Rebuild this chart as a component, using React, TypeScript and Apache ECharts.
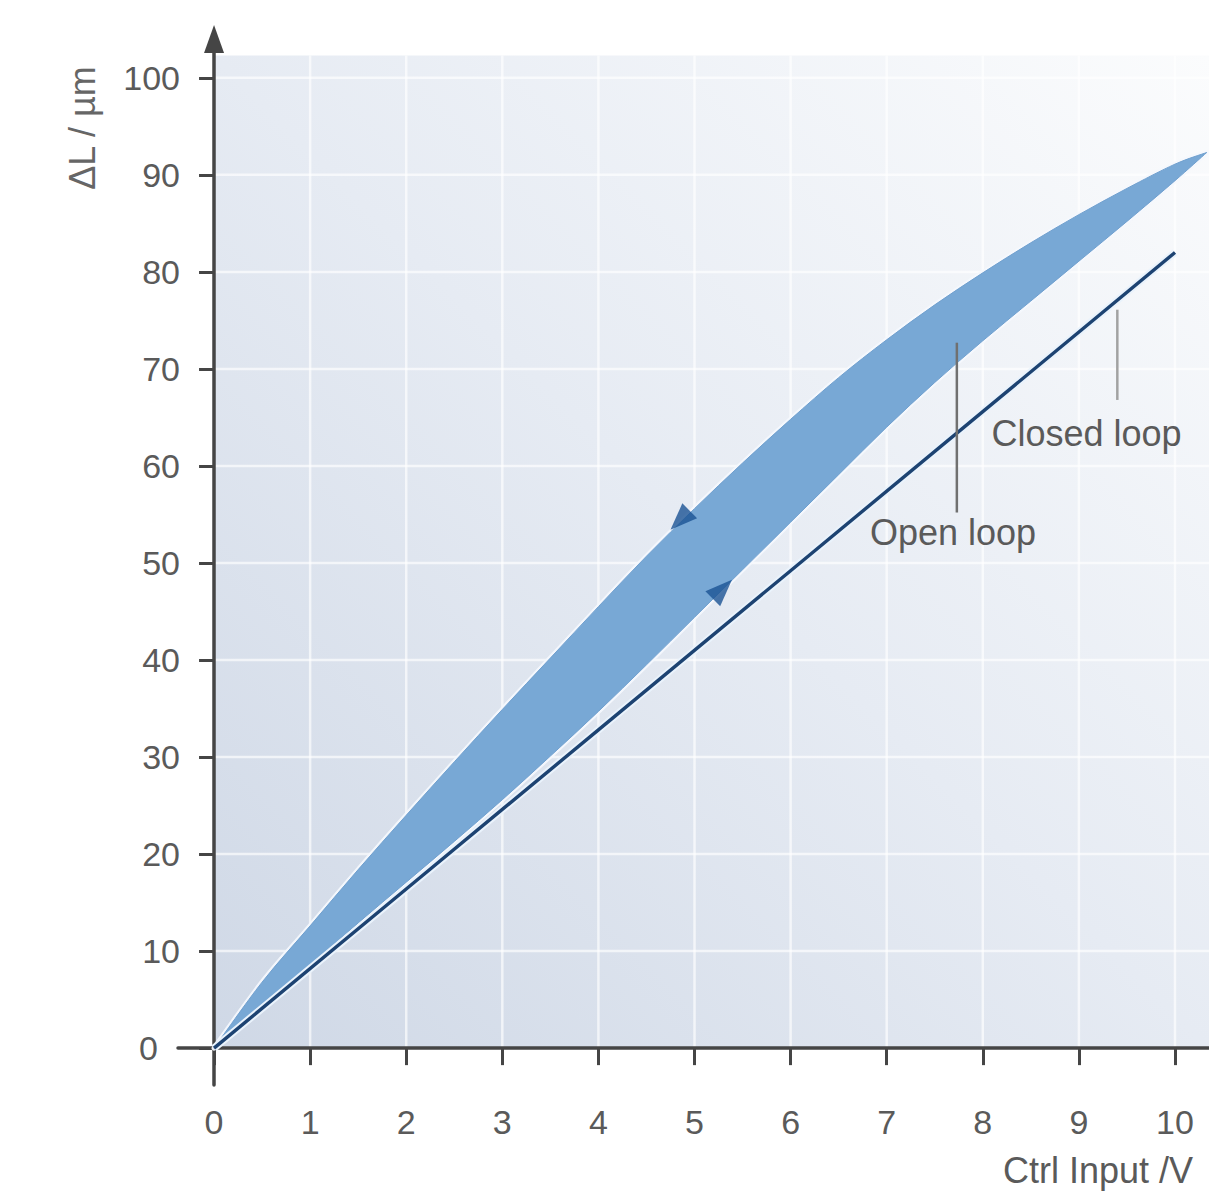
import React, { useEffect, useRef } from 'react';
import * as echarts from 'echarts';

// ---- data ----
const xTicks = [0, 1, 2, 3, 4, 5, 6, 7, 8, 9, 10];
const yTicks = [0, 10, 20, 30, 40, 50, 60, 70, 80, 90, 100];

// open loop hysteresis band: upper (descending) branch and lower (ascending) branch
const openUpperX = [0, 0.5, 1, 1.5, 2, 2.5, 3, 3.5, 4, 4.5, 5, 5.5, 6, 6.5, 7, 7.5, 8, 8.5, 9, 9.5, 10, 10.33];
const openUpperY = [0, 6.8, 12.6, 18.4, 24.0, 29.5, 34.9, 40.2, 45.5, 50.7, 55.6, 60.3, 64.8, 69.1, 73.0, 76.6, 79.9, 83.0, 85.9, 88.6, 91.1, 92.3];
const openLowerX = [0, 0.5, 1, 1.5, 2, 2.5, 3, 3.5, 4, 4.5, 5, 5.5, 6, 6.5, 7, 7.5, 8, 8.5, 9, 9.5, 10, 10.33];
const openLowerY = [0, 4.3, 8.6, 12.9, 17.1, 21.3, 25.6, 30.1, 34.7, 39.5, 44.4, 49.3, 54.2, 59.1, 64.0, 68.6, 72.9, 77.0, 81.1, 85.2, 89.4, 92.3];

// closed loop response
const closedX = [0, 2, 4, 6, 8, 10];
const closedY = [0, 16.4, 32.8, 49.2, 65.6, 82];

// direction arrows on the hysteresis branches
const arrowX = [4.85, 5.29];
const arrowY = [54.4, 47.3];
const arrowRotate = [134.5, -45.3];

// annotations
const annoText = ['Open loop', 'Closed loop'];
const annoPointerX = [7.73, 9.4];
const annoPointerTop = [72.7, 76.1];
const annoPointerBottom = [55.2, 66.8];
const annoTextX = [7.69, 9.08];
const annoTextY = [53.1, 63.3];
const annoPointerColor = ['#707070', '#a2a2a2'];

// axis extents (the axes cross at the origin and extend a little beyond)
const X_MIN = -0.375;
const X_MAX = 10.354;
const Y_MIN = -3.8;
const Y_MAX = 104;
const BG_TOP = 102.3;

const FONT = '"Liberation Sans", Arial, Helvetica, sans-serif';
const AXIS_COLOR = '#454545';
const TEXT_COLOR = '#5a5a5a';

// Catmull-Rom spline through pixel points -> SVG cubic segments (without the initial M)
function splineSegments(p: number[][]): string {
  let d = '';
  for (let i = 0; i < p.length - 1; i++) {
    const p0 = p[Math.max(0, i - 1)];
    const p1 = p[i];
    const p2 = p[i + 1];
    const p3 = p[Math.min(p.length - 1, i + 2)];
    const c1x = p1[0] + (p2[0] - p0[0]) / 6;
    const c1y = p1[1] + (p2[1] - p0[1]) / 6;
    const c2x = p2[0] - (p3[0] - p1[0]) / 6;
    const c2y = p2[1] - (p3[1] - p1[1]) / 6;
    d += ` C ${c1x} ${c1y} ${c2x} ${c2y} ${p2[0]} ${p2[1]}`;
  }
  return d;
}

export default function App() {
  const ref = useRef<HTMLDivElement>(null);

  useEffect(() => {
    document.body.style.margin = '0';
    if (!ref.current) return;
    const chart = echarts.init(ref.current, null, { renderer: 'svg' });

    const bgGradient = new echarts.graphic.LinearGradient(0, 1, 1, 0, [
      { offset: 0, color: '#cfd8e6' },
      { offset: 0.5, color: '#e6ebf3' },
      { offset: 1, color: '#fbfcfd' },
    ]);

    const option: any = {
      animation: false,
      backgroundColor: '#ffffff',
      grid: { left: 178, right: 0, top: 39, bottom: 106, containLabel: false },
      xAxis: {
        type: 'value',
        min: X_MIN,
        max: X_MAX,
        axisLine: { show: true, onZero: true, lineStyle: { color: AXIS_COLOR, width: 3.5 } },
        axisTick: { show: true, customValues: xTicks, length: 17, lineStyle: { color: AXIS_COLOR, width: 3 } },
        axisLabel: {
          customValues: xTicks,
          margin: 20,
          fontSize: 34,
          color: TEXT_COLOR,
          fontFamily: FONT,
        },
        splitLine: { show: false },
      },
      yAxis: {
        type: 'value',
        min: Y_MIN,
        max: Y_MAX,
        axisLine: {
          show: true,
          onZero: true,
          symbol: ['none', 'triangle'],
          symbolSize: [20, 28],
          lineStyle: { color: AXIS_COLOR, width: 3.5 },
        },
        axisTick: { show: true, customValues: yTicks, length: 15, lineStyle: { color: AXIS_COLOR, width: 3 } },
        axisLabel: {
          customValues: yTicks,
          margin: -2,
          fontSize: 34,
          color: TEXT_COLOR,
          fontFamily: FONT,
          formatter: (v: number) => (v === 0 ? '{z|0}' : String(v)),
          rich: { z: { padding: [0, 22, 0, 0], fontSize: 34, color: TEXT_COLOR, fontFamily: FONT } },
        },
        splitLine: { show: false },
      },
      graphic: [
        {
          type: 'text',
          x: 82,
          y: 128,
          rotation: Math.PI / 2,
          style: {
            text: 'ΔL / µm',
            fontSize: 36,
            fontFamily: FONT,
            fill: '#666666',
            align: 'center',
            verticalAlign: 'middle',
          },
          z: 100,
        },
        {
          type: 'text',
          x: 1193,
          y: 1170,
          style: {
            text: 'Ctrl Input /V',
            fontSize: 36,
            fontFamily: FONT,
            fill: TEXT_COLOR,
            align: 'right',
            verticalAlign: 'middle',
          },
          z: 100,
        },
      ],
      series: [
        {
          // plot background with grid
          type: 'custom',
          silent: true,
          z: 0,
          data: [[0, 0]],
          clip: false,
          renderItem: (_params: any, api: any) => {
            const p0 = api.coord([0, 0]);
            const p1 = api.coord([X_MAX, BG_TOP]);
            const children: any[] = [
              {
                type: 'rect',
                shape: { x: p0[0], y: p1[1], width: p1[0] - p0[0], height: p0[1] - p1[1] },
                style: { fill: bgGradient },
              },
            ];
            xTicks.forEach((v) => {
              if (v === 0) return;
              const a = api.coord([v, 0]);
              const b = api.coord([v, BG_TOP]);
              children.push({
                type: 'line',
                shape: { x1: a[0], y1: a[1], x2: b[0], y2: b[1] },
                style: { stroke: 'rgba(255,255,255,0.65)', lineWidth: 2.5 },
              });
            });
            yTicks.forEach((v) => {
              if (v === 0) return;
              const a = api.coord([0, v]);
              const b = api.coord([X_MAX, v]);
              children.push({
                type: 'line',
                shape: { x1: a[0], y1: a[1], x2: b[0], y2: b[1] },
                style: { stroke: 'rgba(255,255,255,0.65)', lineWidth: 2.5 },
              });
            });
            return { type: 'group', children };
          },
        },
        {
          // open loop hysteresis band
          type: 'custom',
          silent: true,
          z: 2,
          data: [[0, 0]],
          clip: false,
          renderItem: (_params: any, api: any) => {
            const up = openUpperX.map((x, i) => api.coord([x, openUpperY[i]]));
            const low = openLowerX.map((x, i) => api.coord([x, openLowerY[i]])).reverse();
            const d =
              `M ${up[0][0]} ${up[0][1]}` +
              splineSegments(up) +
              ` L ${low[0][0]} ${low[0][1]}` +
              splineSegments(low) +
              ' Z';
            return {
              type: 'group',
              children: [
                {
                  type: 'path',
                  shape: { pathData: d },
                  style: { fill: 'none', stroke: 'rgba(244,248,253,0.95)', lineWidth: 5, lineJoin: 'round' },
                },
                {
                  type: 'path',
                  shape: { pathData: d },
                  style: { fill: '#78a8d5', stroke: '#70a0cf', lineWidth: 1 },
                },
              ],
            };
          },
        },
        {
          type: 'line',
          z: 3,
          silent: true,
          symbol: 'none',
          data: closedX.map((x, i) => [x, closedY[i]]),
          lineStyle: { color: '#eaf3fc', width: 7.5 },
        },
        {
          name: 'Closed loop',
          type: 'line',
          z: 4,
          silent: true,
          symbol: 'none',
          data: closedX.map((x, i) => [x, closedY[i]]),
          lineStyle: { color: '#1d4372', width: 3.4 },
        },
        {
          type: 'scatter',
          z: 5,
          silent: true,
          symbol: 'triangle',
          symbolSize: [21, 27],
          itemStyle: { color: '#1a5294' },
          data: arrowX.map((x, i) => ({ value: [x, arrowY[i]], symbolRotate: arrowRotate[i] })),
        },
        {
          // annotation pointers and labels
          type: 'custom',
          silent: true,
          z: 6,
          clip: false,
          data: annoText.map((_t, i) => [annoPointerX[i], annoPointerTop[i]]),
          renderItem: (params: any, api: any) => {
            const i = params.dataIndex;
            const a = api.coord([annoPointerX[i], annoPointerTop[i]]);
            const b = api.coord([annoPointerX[i], annoPointerBottom[i]]);
            const t = api.coord([annoTextX[i], annoTextY[i]]);
            return {
              type: 'group',
              children: [
                {
                  type: 'line',
                  shape: { x1: a[0], y1: a[1], x2: b[0], y2: b[1] },
                  style: { stroke: annoPointerColor[i], lineWidth: 2.5 },
                },
                {
                  type: 'text',
                  x: t[0],
                  y: t[1],
                  style: {
                    text: annoText[i],
                    fontSize: 36,
                    fontFamily: FONT,
                    fill: TEXT_COLOR,
                    align: 'center',
                    verticalAlign: 'middle',
                  },
                },
              ],
            };
          },
        },
      ],
    };

    chart.setOption(option);
    return () => {
      chart.dispose();
    };
  }, []);

  return <div ref={ref} style={{ width: 1209, height: 1191 }} />;
}
